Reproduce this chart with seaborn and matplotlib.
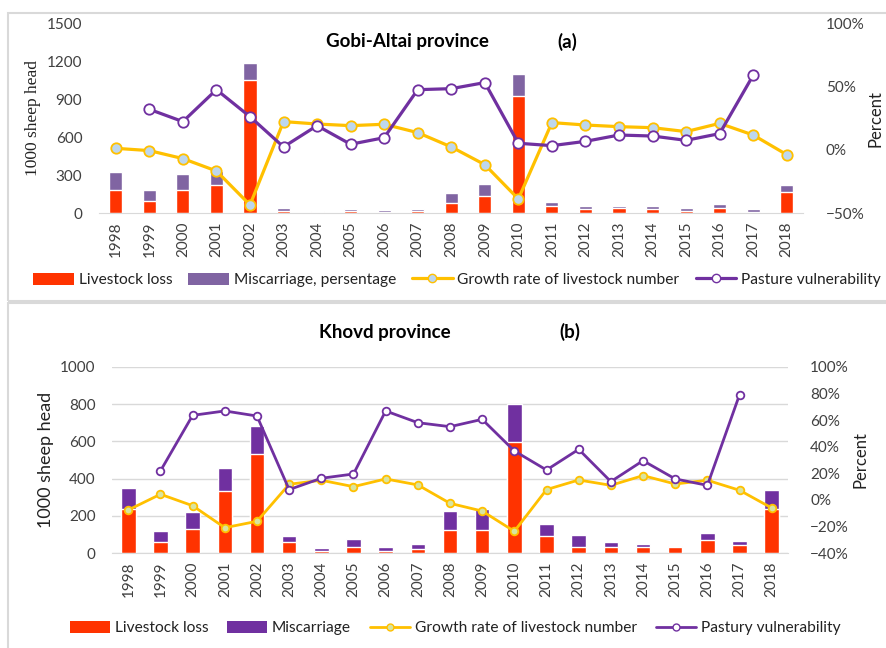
import numpy as np
import pandas as pd
import matplotlib
matplotlib.use("Agg")
import matplotlib.pyplot as plt
import seaborn as sns
from matplotlib.patches import Patch, Rectangle
from matplotlib.lines import Line2D
from matplotlib.ticker import PercentFormatter

years = [str(y) for y in range(1998, 2019)]

# panel (a) Gobi-Altai, 1000 sheep head
ga_loss = [180, 100, 180, 220, 1050, 18, 14, 18, 14, 20, 80, 140, 925, 58, 32, 45, 32, 18, 42, 10, 170]
ga_total = [325, 187, 310, 330, 1190, 42, 16, 32, 24, 32, 163, 231, 1100, 92, 58, 58, 58, 42, 76, 34, 221]
# percent
ga_growth = [1.3, -0.5, -6.8, -16.6, -43.4, 22.4, 20.5, 19.2, 20.3, 13.7, 2.4, -11.6, -38.7,
             21.6, 19.7, 18.4, 17.6, 14.5, 21.0, 11.8, -3.7]
ga_pasture = [np.nan, 32.1, 22.4, 47.6, 26.3, 2.4, 19.2, 4.5, 9.7, 47.6, 48.4, 53.2, 5.3,
              3.4, 6.8, 11.8, 11.0, 7.6, 12.9, 59.0, np.nan]

# panel (b) Khovd
kh_loss = [240, 59, 130, 334, 534, 59, 14, 36, 14, 21, 125, 125, 595, 93, 36, 36, 36, 32, 71, 46, 236]
kh_total = [352, 120, 220, 455, 682, 91, 30, 75, 36, 48, 229, 236, 798, 157, 96, 59, 52, 37, 109, 64, 339]
kh_growth = [-7.5, 4.3, -4.3, -20.8, -16.0, 11.8, 14.8, 10.0, 15.8, 11.3, -2.5, -8.3, -23.5,
             7.8, 15.0, 11.0, 18.3, 12.0, 14.8, 7.3, -6.0]
kh_pasture = [np.nan, 21.8, 63.5, 66.8, 63.0, 7.8, 16.3, 19.5, 66.8, 58.0, 55.0, 60.5, 36.8,
              22.5, 38.0, 13.8, 29.5, 15.8, 11.0, 79.0, np.nan]

RED = "#FF3300"
PURPLE_A = "#8064A2"
PURPLE_B = "#7030A0"
LINE_PURPLE = "#7030A0"
YELLOW = "#FFC000"
GRAY = "#D9D9D9"
TXT = "#404040"

sns.set_style("white")
plt.rcParams["font.family"] = ["Lato", "DejaVu Sans"]

W, H = 886, 648
fig = plt.figure(figsize=(8.86, 6.48), dpi=100)


def box(x0, y0, x1, y1):
    return [x0 / W, 1 - y1 / H, (x1 - x0) / W, (y1 - y0) / H]


# panel frames
fig.patches.append(Rectangle((8 / W, 1 - 301 / H), 1.0, 288 / H, transform=fig.transFigure,
                             fill=False, edgecolor=GRAY, lw=1.5))
fig.patches.append(Rectangle((8 / W, -0.05), 1.0, 1 - 303 / H + 0.05, transform=fig.transFigure,
                             fill=False, edgecolor=GRAY, lw=1.5))


def panel(rect, loss, total, growth, pasture, purple, ymax, yticks, pmin, pticks,
          lw, ms, growth_face, grid, label_font, label_size, bar_w, rpad):
    ax = fig.add_axes(rect)
    df = pd.DataFrame({"year": years, "loss": loss, "total": total})
    sns.barplot(data=df, x="year", y="total", color=purple, saturation=1, width=bar_w, ax=ax)
    sns.barplot(data=df, x="year", y="loss", color=RED, saturation=1, width=bar_w, ax=ax)
    ax.set_xlim(-0.5, len(years) - 0.5)
    ax.set_ylim(0, ymax)
    ax.set_yticks(yticks)
    ax.set_xlabel("")
    ax.set_ylabel("1000 sheep head", fontsize=label_size, color="#222222", **label_font)
    ax.tick_params(axis="both", length=0, labelsize=11, labelcolor=TXT)
    ax.tick_params(axis="y", pad=12)
    ax.tick_params(axis="x", rotation=90, pad=6)
    for s in ["top", "right", "left"]:
        ax.spines[s].set_visible(False)
    ax.spines["bottom"].set_color(GRAY)
    if grid:
        ax.yaxis.grid(True, color=GRAY, lw=1)
        ax.set_axisbelow(True)

    ax2 = ax.twinx()
    ld = pd.DataFrame({"x": np.arange(len(years)), "growth": np.array(growth) / 100,
                       "pasture": np.array(pasture) / 100})
    sns.lineplot(data=ld, x="x", y="growth", ax=ax2, color=YELLOW, lw=lw, marker="o",
                 markersize=ms, markerfacecolor=growth_face, markeredgecolor=YELLOW,
                 markeredgewidth=1.3)
    pd_ = ld.dropna(subset=["pasture"])
    sns.lineplot(data=pd_, x="x", y="pasture", ax=ax2, color=LINE_PURPLE, lw=lw, marker="o",
                 markersize=ms, markerfacecolor="white", markeredgecolor=LINE_PURPLE,
                 markeredgewidth=1.3)
    ax2.set_ylim(pmin, 1.0)
    ax2.set_yticks(pticks)
    ax2.yaxis.set_major_formatter(PercentFormatter(1.0, decimals=0))
    ax2.set_ylabel("Percent", fontsize=12, color="#222222", labelpad=rpad)
    ax2.tick_params(axis="y", length=0, labelsize=11, labelcolor=TXT, pad=16)
    for s in ax2.spines.values():
        s.set_visible(False)
    ax2.set_xlim(-0.5, len(years) - 0.5)
    return ax, ax2


# (a)
panel(box(99, 23.3, 803.5, 213.3), ga_loss, ga_total, ga_growth, ga_pasture, PURPLE_A,
      1500, [0, 300, 600, 900, 1200, 1500], -0.5, [-0.5, 0, 0.5, 1.0],
      2.3, 7.5, "#BDD7EE", False, {"family": "Liberation Serif"}, 12.5, 0.39, 2)
fig.text(407 / W, 1 - 42 / H, "Gobi-Altai province", ha="center", va="center",
         fontsize=13.5, fontweight="bold", color="black")
fig.text(567 / W, 1 - 42 / H, "(a)", ha="center", va="center",
         fontsize=13.5, fontweight="bold", color="black")

# (b)
panel(box(112.2, 366.7, 787.8, 553.3), kh_loss, kh_total, kh_growth, kh_pasture, PURPLE_B,
      1000, [0, 200, 400, 600, 800, 1000], -0.4, [-0.4, -0.2, 0, 0.2, 0.4, 0.6, 0.8, 1.0],
      2.0, 5.5, "#D8E4A0", True, {}, 13, 0.45, 3)
fig.text(385 / W, 1 - 332 / H, "Khovd province", ha="center", va="center",
         fontsize=13.5, fontweight="bold", color="black")
fig.text(570 / W, 1 - 332 / H, "(b)", ha="center", va="center",
         fontsize=13.5, fontweight="bold", color="black")


def legend(y, xc, purple, labels, lw, ms, face, cs):
    handles = [
        Patch(facecolor=RED, edgecolor="none"),
        Patch(facecolor=purple, edgecolor="none"),
        Line2D([], [], color=YELLOW, lw=lw, marker="o", markersize=ms,
               markerfacecolor=face, markeredgecolor=YELLOW),
        Line2D([], [], color=LINE_PURPLE, lw=lw, marker="o", markersize=ms,
               markerfacecolor="white", markeredgecolor=LINE_PURPLE),
    ]
    fig.legend(handles, labels, loc="center", bbox_to_anchor=(xc / W, 1 - y / H), ncol=4,
               frameon=False, fontsize=11.2, handlelength=2.6, handleheight=0.8,
               handletextpad=0.3, columnspacing=cs, labelcolor="#222222")


legend(280, 457, PURPLE_A, ["Livestock loss", "Miscarriage, persentage",
                            "Growth rate of livestock number", "Pasture vulnerability"],
       2.3, 6, "#BDD7EE", 1.05)
legend(628, 455, PURPLE_B, ["Livestock loss", "Miscarriage",
                            "Growth rate of livestock number", "Pastury vulnerability"],
       2.0, 5, "#D8E4A0", 1.2)

fig.savefig("out.png", dpi=100)
